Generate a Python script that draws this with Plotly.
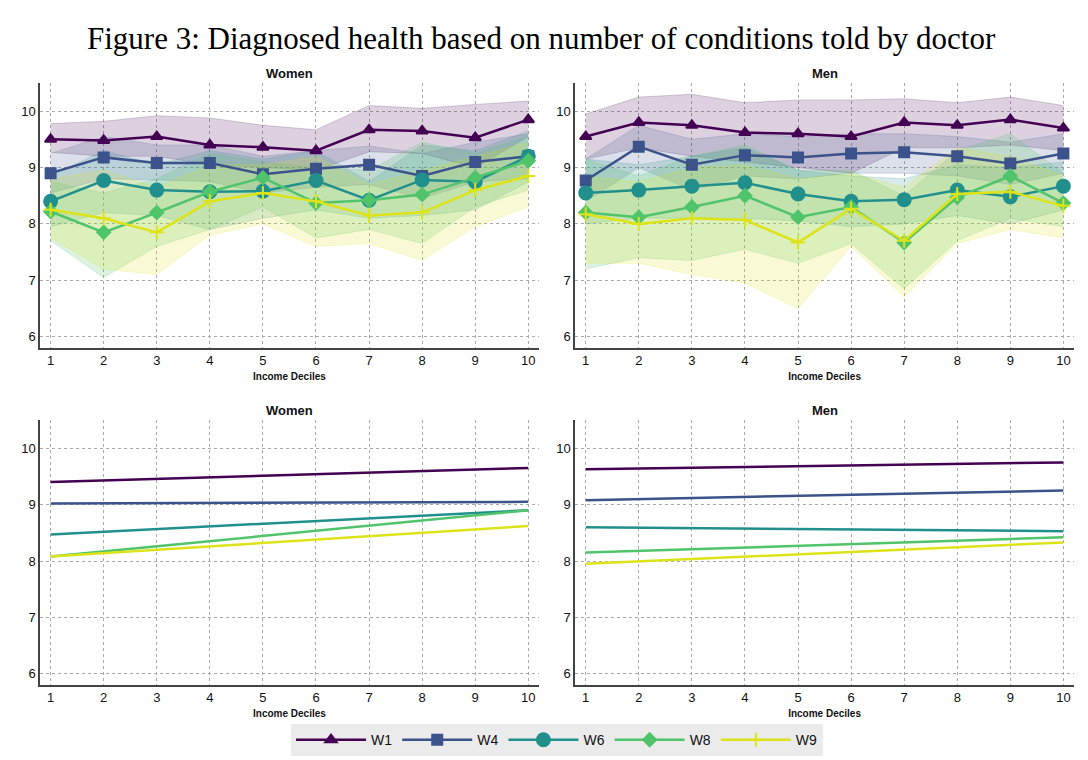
import plotly.graph_objects as go
from plotly.subplots import make_subplots

deciles = [1, 2, 3, 4, 5, 6, 7, 8, 9, 10]
waves = ['W1', 'W4', 'W6', 'W8', 'W9']
colors = {'W1': '#440154', 'W4': '#3b528b', 'W6': '#21908d', 'W8': '#4fc46a', 'W9': '#dde318'}
fills = {'W1': 'rgba(68,1,84,0.18)', 'W4': 'rgba(59,82,139,0.18)', 'W6': 'rgba(33,144,141,0.18)',
         'W8': 'rgba(79,196,106,0.2)', 'W9': 'rgba(221,227,24,0.18)'}
symbols = {'W1': 'triangle-up', 'W4': 'square', 'W6': 'circle', 'W8': 'diamond', 'W9': 'cross-thin'}

# Women, means and confidence bands
women_mean = {
    'W1': [9.50, 9.48, 9.55, 9.40, 9.36, 9.30, 9.67, 9.65, 9.53, 9.85],
    'W4': [8.90, 9.18, 9.08, 9.08, 8.88, 8.98, 9.05, 8.85, 9.10, 9.20],
    'W6': [8.40, 8.77, 8.60, 8.57, 8.58, 8.77, 8.42, 8.78, 8.75, 9.20],
    'W8': [8.22, 7.85, 8.20, 8.57, 8.82, 8.37, 8.42, 8.52, 8.82, 9.12],
    'W9': [8.25, 8.10, 7.85, 8.40, 8.55, 8.40, 8.15, 8.20, 8.60, 8.85],
}
women_hi = {
    'W1': [9.78, 9.82, 9.92, 9.88, 9.75, 9.67, 10.10, 10.05, 10.12, 10.18],
    'W4': [9.25, 9.55, 9.40, 9.40, 9.20, 9.30, 9.38, 9.25, 9.45, 9.60],
    'W6': [8.85, 9.30, 9.05, 9.30, 9.15, 9.30, 8.75, 9.40, 9.30, 9.65],
    'W8': [8.75, 8.55, 8.80, 9.25, 9.10, 9.00, 8.95, 9.45, 9.25, 9.55],
    'W9': [8.80, 8.95, 8.65, 9.05, 9.05, 9.20, 8.70, 8.95, 9.20, 9.45],
}
women_lo = {
    'W1': [9.27, 9.20, 9.20, 9.05, 9.00, 8.95, 9.28, 9.25, 9.00, 9.55],
    'W4': [8.55, 8.80, 8.78, 8.75, 8.55, 8.65, 8.70, 8.45, 8.75, 8.80],
    'W6': [7.95, 8.20, 8.15, 7.90, 8.10, 8.25, 8.10, 8.15, 8.25, 8.75],
    'W8': [7.70, 7.05, 7.60, 7.90, 8.30, 7.75, 7.90, 7.65, 8.30, 8.60],
    'W9': [7.75, 7.20, 7.10, 7.80, 8.00, 7.60, 7.65, 7.35, 7.95, 8.30],
}
# Men, means and confidence bands
men_mean = {
    'W1': [9.55, 9.80, 9.75, 9.62, 9.60, 9.55, 9.80, 9.75, 9.85, 9.70],
    'W4': [8.77, 9.37, 9.05, 9.22, 9.18, 9.25, 9.27, 9.20, 9.07, 9.25],
    'W6': [8.55, 8.60, 8.67, 8.73, 8.53, 8.40, 8.43, 8.60, 8.48, 8.67],
    'W8': [8.20, 8.12, 8.30, 8.50, 8.12, 8.30, 7.67, 8.47, 8.85, 8.37],
    'W9': [8.17, 8.00, 8.10, 8.07, 7.67, 8.27, 7.70, 8.53, 8.57, 8.32],
}
men_hi = {
    'W1': [9.95, 10.25, 10.30, 10.15, 10.20, 10.20, 10.22, 10.15, 10.25, 10.10],
    'W4': [9.15, 9.75, 9.50, 9.60, 9.55, 9.60, 9.60, 9.55, 9.45, 9.60],
    'W6': [9.15, 9.05, 9.20, 9.35, 8.95, 8.85, 8.80, 9.05, 9.00, 9.10],
    'W8': [9.15, 8.85, 9.20, 9.40, 8.95, 8.95, 8.50, 9.30, 9.60, 8.90],
    'W9': [8.85, 8.75, 9.00, 9.05, 8.80, 8.90, 8.65, 9.35, 9.20, 8.85],
}
men_lo = {
    'W1': [9.15, 9.35, 9.20, 9.10, 9.00, 8.90, 9.35, 9.35, 9.40, 9.30],
    'W4': [8.40, 9.00, 8.60, 8.85, 8.80, 8.90, 8.90, 8.85, 8.70, 8.90],
    'W6': [8.00, 8.10, 8.10, 8.10, 8.05, 7.95, 8.00, 8.15, 8.00, 8.25],
    'W8': [7.20, 7.40, 7.35, 7.55, 7.30, 7.65, 6.85, 7.70, 8.10, 7.95],
    'W9': [7.30, 7.30, 7.10, 6.95, 6.50, 7.60, 6.70, 7.65, 7.90, 7.75],
}
# Fitted lines (bottom row), values at decile 1 and 10
fit_x = [1, 10]
women_fit = {'W1': [9.40, 9.65], 'W4': [9.02, 9.05], 'W6': [8.47, 8.90], 'W8': [8.08, 8.90], 'W9': [8.08, 8.62]}
men_fit = {'W1': [9.63, 9.75], 'W4': [9.08, 9.25], 'W6': [8.60, 8.53], 'W8': [8.15, 8.42], 'W9': [7.95, 8.33]}

fig = make_subplots(rows=2, cols=2, subplot_titles=['Women', 'Men', 'Women', 'Men'],
                    horizontal_spacing=0.035, vertical_spacing=0.12)

for col, (mean, hi, lo) in enumerate([(women_mean, women_hi, women_lo), (men_mean, men_hi, men_lo)], start=1):
    for w in waves:
        fig.add_trace(go.Scatter(x=deciles, y=lo[w], mode='lines', line=dict(color=fills[w], width=1),
                                 showlegend=False, hoverinfo='skip'), row=1, col=col)
        fig.add_trace(go.Scatter(x=deciles, y=hi[w], mode='lines', line=dict(color=fills[w], width=1),
                                 fill='tonexty', fillcolor=fills[w], showlegend=False, hoverinfo='skip'),
                      row=1, col=col)
    for w in waves:
        fig.add_trace(go.Scatter(x=deciles, y=mean[w], mode='lines+markers', name=w,
                                 line=dict(color=colors[w], width=2.5),
                                 marker=dict(symbol=symbols[w], size=13 if w == 'W6' else 10, color=colors[w],
                                             line=dict(color=colors[w], width=2)),
                                 showlegend=(col == 1)), row=1, col=col)

for col, fit in enumerate([women_fit, men_fit], start=1):
    for w in waves:
        fig.add_trace(go.Scatter(x=fit_x, y=fit[w], mode='lines', line=dict(color=colors[w], width=2.5),
                                 showlegend=False), row=2, col=col)

fig.update_xaxes(range=[0.8, 10.2], tickvals=deciles, showgrid=True, gridcolor='#aaa', griddash='dot',
                 gridwidth=1.2, showline=True, linecolor='#444', linewidth=1.5, ticks='', zeroline=False,
                 tickfont=dict(size=13, color='#111'),
                 title=dict(text='<b>Income Deciles</b>', font=dict(size=10, color='#111'), standoff=6))
fig.update_yaxes(range=[5.8, 10.5], tickvals=[6, 7, 8, 9, 10], showgrid=True, gridcolor='#aaa', griddash='dot',
                 gridwidth=1.2, showline=True, linecolor='#444', linewidth=1.5, ticks='', zeroline=False,
                 tickfont=dict(size=13, color='#111'))

for a in fig.layout.annotations:
    a.font = dict(size=13, color='#111', family='Liberation Sans')
    a.text = '<b>' + a.text + '</b>'

fig.update_layout(
    width=1088, height=760,
    title=dict(text='Figure 3: Diagnosed health based on number of conditions told by doctor',
               x=0.49, xanchor='center', y=0.975, font=dict(family='Liberation Serif', size=31, color='#000')),
    font=dict(family='Liberation Sans'),
    plot_bgcolor='white', paper_bgcolor='white',
    margin=dict(l=32, r=22, t=75, b=68),
    legend=dict(orientation='h', x=0.5, xanchor='center', y=-0.065, yanchor='top', traceorder='normal',
                bgcolor='#ebebeb', font=dict(size=14, color='#111'), itemwidth=70),
)

fig.write_html('out.html')
